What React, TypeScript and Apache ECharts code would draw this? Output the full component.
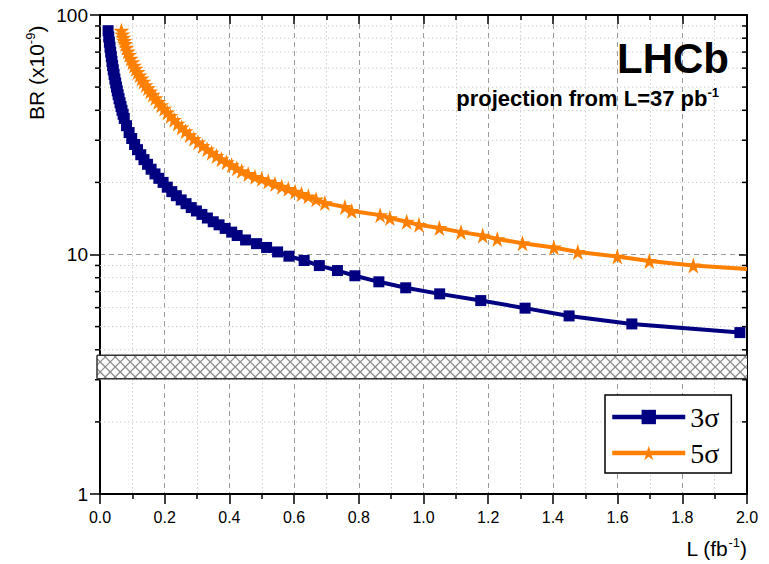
import React, { useEffect, useRef } from "react";
import * as echarts from "echarts";

// Expected 3 sigma sensitivity on BR (x1e-9) versus integrated luminosity L (fb^-1)
const sigma3L = [
  0.025, 0.027, 0.029, 0.031, 0.033, 0.035, 0.037, 0.039, 0.041, 0.0435, 0.046, 0.0485,
  0.051, 0.0535, 0.056, 0.059, 0.062, 0.065, 0.068, 0.0715, 0.075, 0.082, 0.09, 0.098,
  0.107, 0.116, 0.126, 0.136, 0.147, 0.158, 0.17, 0.182, 0.195, 0.208, 0.222, 0.236,
  0.251, 0.266, 0.282, 0.298, 0.315, 0.332, 0.35, 0.368, 0.387, 0.407, 0.424, 0.45,
  0.484, 0.515, 0.549, 0.584, 0.631, 0.678, 0.734, 0.788, 0.862, 0.945, 1.05, 1.177,
  1.314, 1.45, 1.644, 1.978,
];
const sigma3BR = [
  86, 81, 77, 73.5, 70, 67, 64, 61.5, 59, 56.5, 54, 52,
  50, 48.2, 46.5, 44.7, 43, 41.5, 40, 38.5, 37, 34.5, 32.3, 30.5,
  28.8, 27.4, 26.1, 24.9, 23.8, 22.7, 21.7, 20.8, 20.0, 19.1, 18.3, 17.6,
  16.9, 16.3, 15.7, 15.2, 14.7, 14.2, 13.7, 13.3, 12.85, 12.4, 12.0, 11.5,
  11.1, 10.7, 10.25, 9.84, 9.44, 8.99, 8.57, 8.15, 7.69, 7.26, 6.85, 6.42,
  5.97, 5.54, 5.13, 4.72,
];

// Expected 5 sigma sensitivity
const sigma5L = [
  0.066, 0.069, 0.072, 0.075, 0.078, 0.082, 0.086, 0.09, 0.095, 0.1, 0.105, 0.11,
  0.116, 0.122, 0.128, 0.134, 0.141, 0.148, 0.155, 0.163, 0.171, 0.18, 0.189, 0.198,
  0.208, 0.218, 0.229, 0.24, 0.252, 0.264, 0.277, 0.29, 0.303, 0.317, 0.331, 0.345,
  0.36, 0.375, 0.391, 0.407, 0.423, 0.438, 0.458, 0.479, 0.5, 0.52, 0.541, 0.562,
  0.582, 0.603, 0.623, 0.644, 0.668, 0.695, 0.757, 0.778, 0.866, 0.896, 0.948, 0.986,
  1.049, 1.116, 1.183, 1.228, 1.306, 1.403, 1.477, 1.599, 1.698, 1.834, 2.0,
];
const sigma5BR = [
  86, 83, 80.5, 78, 75.8, 73, 70.5, 68.2, 65.7, 63.5, 61.5, 59.7,
  57.8, 56, 54.3, 52.7, 51, 49.5, 48, 46.5, 45, 43.4, 42, 40.6,
  39.2, 37.9, 36.5, 35.2, 33.9, 32.7, 31.5, 30.4, 29.4, 28.4, 27.5, 26.6,
  25.8, 25.0, 24.3, 23.6, 22.9, 22.3, 21.7, 21.1, 20.7, 20.2, 19.7, 19.2,
  18.8, 18.3, 17.9, 17.5, 17.0, 16.4, 15.8, 15.2, 14.6, 14.2, 13.7, 13.3,
  12.9, 12.4, 12.0, 11.6, 11.15, 10.7, 10.25, 9.8, 9.4, 9.0, 8.7,
];

// Shaded band (BR range) and axis ranges
const bandBR = [3.03, 3.8];
const xRange = [0, 2];
const yRange = [1, 100];
const xStep = 0.2;
const yMinorValues = [2, 3, 4, 5, 6, 7, 8, 9, 20, 30, 40, 50, 60, 70, 80, 90];

const seriesNames = ["3σ", "5σ"];
const FONT = "'Liberation Sans', Arial, Helvetica, sans-serif";
const STAR =
  "path://M50,0 L61.2,34.5 L97.6,34.5 L68.2,55.9 L79.4,90.5 L50,69.1 L20.6,90.5 L31.8,55.9 L2.4,34.5 L38.8,34.5 Z";

export default function App() {
  const ref = useRef<HTMLDivElement>(null);

  useEffect(() => {
    if (!ref.current) return;
    const chart = echarts.init(ref.current, undefined, { renderer: "svg" });

    const minorData = yMinorValues.map((v) => [xRange[0], v]);

    const option: any = {
      animation: false,
      backgroundColor: "#fff",
      grid: { left: 100, top: 15, right: 22, bottom: 70, containLabel: false },
      xAxis: [
        {
          type: "value",
          min: xRange[0],
          max: xRange[1],
          interval: xStep,
          position: "bottom",
          axisLine: { onZero: false, lineStyle: { color: "#000", width: 2 } },
          axisTick: { length: 10, lineStyle: { color: "#000", width: 1.5 } },
          minorTick: { show: true, splitNumber: 2, length: 5, lineStyle: { color: "#000", width: 1.5 } },
          splitLine: { show: true, lineStyle: { color: "#9a9a9a", type: [5, 4], width: 1 } },
          minorSplitLine: { show: true, lineStyle: { color: "#cfcfcf", type: [1.5, 2.5], width: 1 } },
          axisLabel: {
            formatter: (v: number) => v.toFixed(1),
            fontSize: 16,
            color: "#000",
            fontFamily: FONT,
            margin: 15,
          },
        },
        {
          type: "value",
          min: xRange[0],
          max: xRange[1],
          interval: xStep,
          position: "top",
          axisLine: { onZero: false, lineStyle: { color: "#000", width: 2 } },
          axisTick: { inside: true, length: 9, lineStyle: { color: "#000", width: 1.5 } },
          minorTick: { show: true, splitNumber: 2, length: 5, lineStyle: { color: "#000", width: 1.5 } },
          splitLine: { show: false },
          axisLabel: { show: false },
        },
      ],
      yAxis: [
        {
          type: "log",
          logBase: 10,
          min: yRange[0],
          max: yRange[1],
          position: "left",
          axisLine: { onZero: false, lineStyle: { color: "#000", width: 2 } },
          axisTick: { length: 10, lineStyle: { color: "#000", width: 1.5 } },
          splitLine: { show: true, lineStyle: { color: "#9a9a9a", type: [5, 4], width: 1 } },
          axisLabel: { fontSize: 19, color: "#000", fontFamily: FONT, margin: 12 },
        },
        {
          type: "log",
          logBase: 10,
          min: yRange[0],
          max: yRange[1],
          position: "right",
          axisLine: { onZero: false, lineStyle: { color: "#000", width: 2 } },
          axisTick: { inside: true, length: 8, lineStyle: { color: "#000", width: 1.5 } },
          splitLine: { show: false },
          axisLabel: { show: false },
        },
      ],
      legend: {
        data: seriesNames,
        orient: "vertical",
        left: 605,
        top: 395,
        width: 135,
        padding: [8, 12, 6, 5],
        itemGap: 8,
        itemWidth: 73,
        itemHeight: 18,
        borderColor: "#000",
        borderWidth: 1.5,
        borderRadius: 0,
        backgroundColor: "#fff",
        lineStyle: { width: 4.5 },
        textStyle: {
          fontFamily: "'Liberation Serif', 'Times New Roman', serif",
          fontSize: 28,
          color: "#000",
        },
      },
      series: [
        {
          // logarithmic minor grid lines and ticks on both vertical axes
          type: "custom",
          z: 1,
          silent: true,
          clip: false,
          data: minorData,
          encode: { x: 0, y: 1 },
          renderItem: (_p: any, api: any) => {
            const v = api.value(1);
            const pl = api.coord([xRange[0], v]);
            const pr = api.coord([xRange[1], v]);
            const y = pl[1];
            return {
              type: "group",
              children: [
                {
                  type: "line",
                  shape: { x1: pl[0], y1: y, x2: pr[0], y2: y },
                  style: { stroke: "#cfcfcf", lineWidth: 1, lineDash: [1.5, 2.5] },
                },
                {
                  type: "line",
                  shape: { x1: pl[0] - 5, y1: y, x2: pl[0], y2: y },
                  style: { stroke: "#000", lineWidth: 1.5 },
                },
                {
                  type: "line",
                  shape: { x1: pr[0] - 5, y1: y, x2: pr[0], y2: y },
                  style: { stroke: "#000", lineWidth: 1.5 },
                },
              ],
            };
          },
        },
        {
          // cross-hatched band
          type: "custom",
          z: 3,
          silent: true,
          clip: false,
          data: [[xRange[0], xRange[1], bandBR[0], bandBR[1]]],
          encode: { x: [0, 1], y: [2, 3] },
          renderItem: (_p: any, api: any) => {
            const a = api.coord([api.value(0), api.value(3)]);
            const b = api.coord([api.value(1), api.value(2)]);
            const xL = a[0] - 3;
            const xR = b[0];
            const yT = a[1];
            const yB = b[1];
            const step = 10;
            const children: any[] = [
              {
                type: "rect",
                shape: { x: xL, y: yT, width: xR - xL, height: yB - yT },
                style: { fill: "#fff", stroke: "none" },
              },
            ];
            const hatch = { stroke: "#8c8c8c", lineWidth: 1.3 };
            for (let c = xL + yT; c <= xR + yB; c += step) {
              const xa = Math.max(xL, c - yB);
              const xb = Math.min(xR, c - yT);
              if (xa < xb) children.push({ type: "line", shape: { x1: xa, y1: c - xa, x2: xb, y2: c - xb }, style: hatch });
            }
            for (let c = xL - yB; c <= xR - yT; c += step) {
              const xa = Math.max(xL, c + yT);
              const xb = Math.min(xR, c + yB);
              if (xa < xb) children.push({ type: "line", shape: { x1: xa, y1: xa - c, x2: xb, y2: xb - c }, style: hatch });
            }
            const edge = { stroke: "#333", lineWidth: 1.5 };
            children.push({ type: "line", shape: { x1: xL, y1: yT, x2: xR, y2: yT }, style: edge });
            children.push({ type: "line", shape: { x1: xL, y1: yB, x2: xR, y2: yB }, style: edge });
            children.push({ type: "line", shape: { x1: xL, y1: yT, x2: xL, y2: yB }, style: edge });
            return { type: "group", children };
          },
        },
        {
          name: seriesNames[0],
          type: "line",
          z: 4,
          data: sigma3L.map((x, i) => [x, sigma3BR[i]]),
          symbol: "rect",
          symbolSize: 11,
          showAllSymbol: true,
          color: "#000080",
          itemStyle: { color: "#000080" },
          lineStyle: { color: "#000080", width: 4 },
        },
        {
          name: seriesNames[1],
          type: "line",
          z: 5,
          data: sigma5L.map((x, i) =>
            i === sigma5L.length - 1 ? { value: [x, sigma5BR[i]], symbol: "none" } : [x, sigma5BR[i]]
          ),
          symbol: STAR,
          symbolSize: 16,
          showAllSymbol: true,
          color: "#FF8000",
          itemStyle: { color: "#FF8000" },
          lineStyle: { color: "#FF8000", width: 4 },
        },
      ],
      graphic: [
        {
          type: "text",
          left: 617,
          top: 37,
          z: 10,
          style: { text: "LHCb", font: `bold 42px ${FONT}`, fill: "#000" },
        },
        {
          type: "text",
          right: 50,
          top: 86,
          z: 10,
          style: {
            text: "{n|projection from L=37 pb}{s|-1}",
            fill: "#000",
            rich: {
              n: { fontFamily: FONT, fontWeight: "bold", fontSize: 22, lineHeight: 24, fill: "#000" },
              s: { fontFamily: FONT, fontWeight: "bold", fontSize: 13, lineHeight: 13, verticalAlign: "top", fill: "#000" },
            },
          },
        },
        {
          type: "text",
          x: 24,
          y: 120,
          rotation: Math.PI / 2,
          z: 10,
          style: {
            text: "{n|BR (x10}{s|-9}{n|)}",
            fill: "#000",
            rich: {
              n: { fontFamily: FONT, fontSize: 21, lineHeight: 24, fill: "#000" },
              s: { fontFamily: FONT, fontSize: 13, lineHeight: 13, verticalAlign: "top", fill: "#000" },
            },
          },
        },
        {
          type: "text",
          right: 22,
          top: 536,
          z: 10,
          style: {
            text: "{n|L (fb}{s|-1}{n|)}",
            fill: "#000",
            rich: {
              n: { fontFamily: FONT, fontSize: 21, lineHeight: 24, fill: "#000" },
              s: { fontFamily: FONT, fontSize: 13, lineHeight: 13, verticalAlign: "top", fill: "#000" },
            },
          },
        },
      ],
    };

    chart.setOption(option);
    return () => chart.dispose();
  }, []);

  return <div ref={ref} style={{ width: 769, height: 564, position: "absolute", left: 0, top: 0 }} />;
}
